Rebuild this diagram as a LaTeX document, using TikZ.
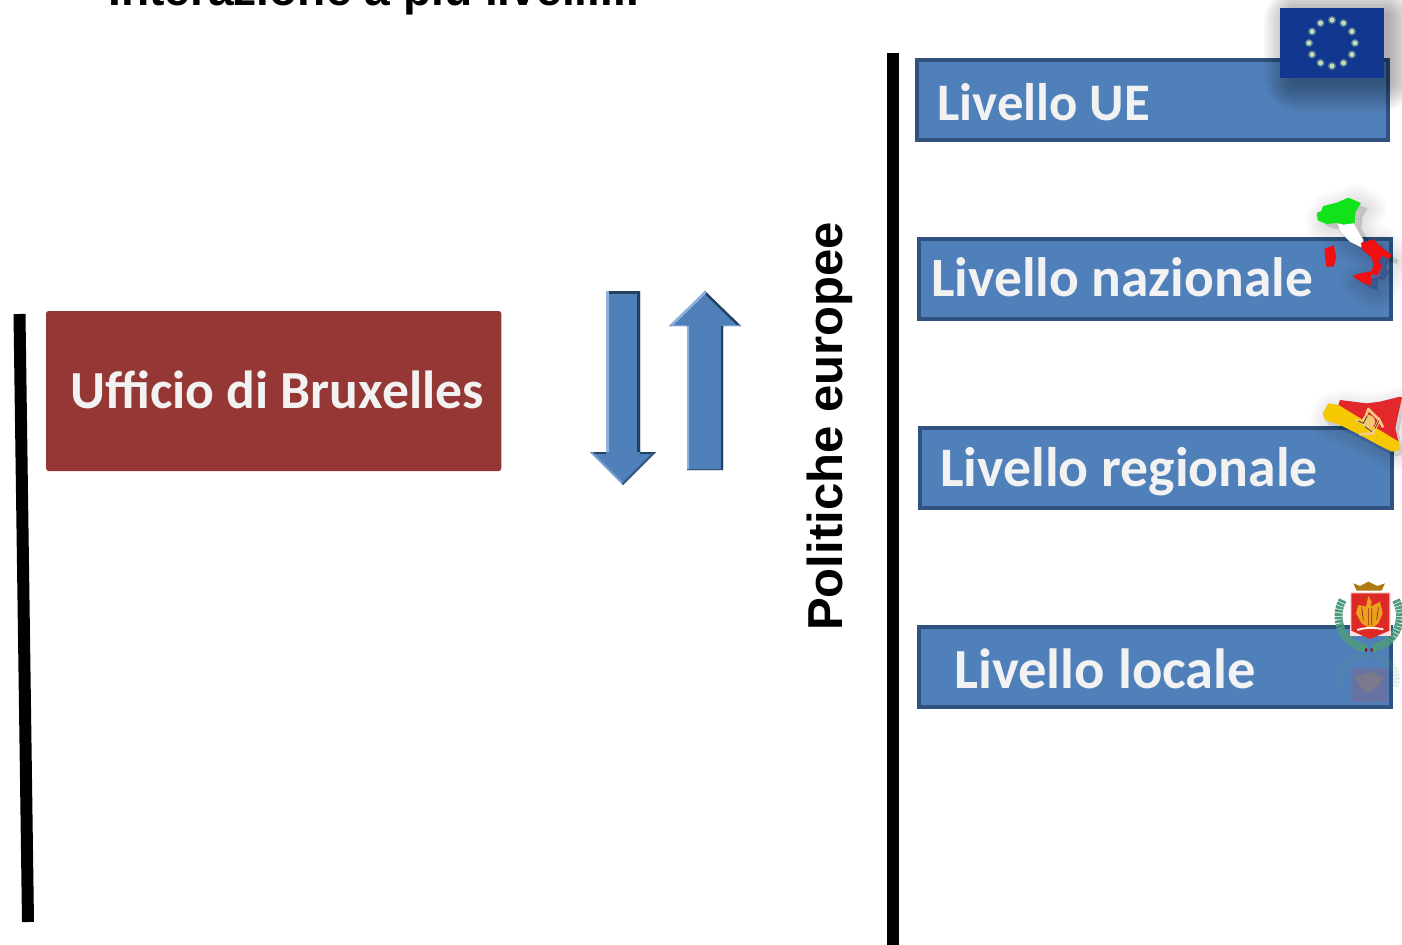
\documentclass[tikz,border=0pt]{standalone}
\usepackage{fontspec}
\setmainfont{Liberation Sans}
\newfontfamily\labfont{Carlito}
\definecolor{boxblue}{HTML}{5080B9}
\definecolor{boxedge}{HTML}{2F5280}
\definecolor{boxred}{HTML}{953735}
\definecolor{arrowblue}{HTML}{5080B9}
\definecolor{lightedge}{HTML}{8FB2DC}
\definecolor{darkedge}{HTML}{24405F}
\definecolor{flagblue}{HTML}{11388E}
\definecolor{star}{HTML}{C4E0B4}
\definecolor{itgreen}{HTML}{12E21A}
\definecolor{itred}{HTML}{F00F12}
\definecolor{siyellow}{HTML}{F5C800}
\definecolor{sired}{HTML}{E3282C}
\definecolor{gold}{HTML}{E9A21B}
\definecolor{wreath}{HTML}{4E9C7C}
\definecolor{shieldred}{HTML}{DD2A26}
\newcommand{\labsize}[1]{\labfont\bfseries\fontsize{#1}{44}\selectfont}
\tikzset{
  level/.style={draw=boxedge,line width=2.4pt,fill=boxblue,anchor=north west,inner sep=0pt,outer sep=0pt,minimum height=60pt},
  leveltext/.style={anchor=base west,inner sep=0pt,text=white!95!black},
  blackbar/.style={line width=9pt,draw=black},
  softshadow/.style={draw=black,fill=black,line join=round,draw opacity=0.011,fill opacity=0.011},
  blob/.style={line join=round,line width=.9pt},
}
\def\downarrowpath{(606,291) -- (640,291) -- (640,452) -- (656,452) -- (623,485) -- (590,452) -- (606,452) -- cycle}
\def\uparrowpath{(705,291) -- (741,326) -- (723,326) -- (723,470) -- (687,470) -- (687,326) -- (669,326) -- cycle}
\def\italyoutline{(112,70) -- (125,65) -- (130,50) -- (150,45) -- (170,40) -- (205,25) -- (240,40) -- (225,65) -- (222,100) -- (250,150) -- (280,150) -- (305,175) -- (332,195) -- (328,205) -- (305,195) -- (295,215) -- (305,230) -- (290,255) -- (272,250) -- (270,285) -- (245,275) -- (220,258) -- (250,250) -- (275,245) -- (283,225) -- (275,200) -- (250,180) -- (240,170) -- (210,155) -- (180,125) -- (172,100) -- (140,100) -- (115,90) -- cycle}
\def\sicilyoutline{(128,85) -- (145,55) -- (175,60) -- (180,45) -- (260,55) -- (300,50) -- (360,35) -- (366,38) -- (352,100) -- (346,130) -- (356,172) -- (360,195) -- (335,200) -- (295,180) -- (240,150) -- (180,120) -- (135,105) -- cycle}
\begin{document}
\begin{tikzpicture}[x=0.75pt,y=-0.75pt]
\useasboundingbox (0,0) rectangle (1402,945);
\clip (0,0) rectangle (1402,945);
\fill[white] (0,0) rectangle (1402,945);

% title, cut by the top edge
\node[anchor=base west,inner sep=0pt,font=\bfseries\fontsize{34.6}{36}\selectfont] (title) at (108,5.5) {Interazione a più livelli...};

% black bars
\coordinate (lefttop) at (19.5,314);
\coordinate (leftbot) at (28,922);
\coordinate (righttop) at (893,53);
\coordinate (rightbot) at (893,945);
\draw[blackbar] (lefttop) -- (leftbot);
\draw[blackbar] (righttop) -- (rightbot);

% red office
\node[fill=boxred,rounded corners=2pt,minimum width=341.5pt,minimum height=120pt,anchor=north west,inner sep=0pt,outer sep=0pt] (ufficio) at (46,311) {};
\node[leveltext,font=\labsize{40.2}] (ufficiotext) at (70,408) {Ufficio di Bruxelles};

% down arrow with bevel
\fill[arrowblue] \downarrowpath;
\begin{scope}
  \clip \downarrowpath;
  \draw[darkedge,line width=4pt] (606,291) -- (640,291);
  \draw[darkedge,line width=4pt] (640,291) -- (640,452);
  \draw[lightedge,line width=4pt] (606,291) -- (606,452);
  \draw[darkedge,line width=3pt] (590,452) -- (606,452);
  \draw[darkedge,line width=3pt] (640,452) -- (656,452);
  \draw[lightedge!50!arrowblue,line width=3pt] (590,452) -- (623,485);
  \draw[darkedge!60!arrowblue,line width=3pt] (656,452) -- (623,485);
\end{scope}
% up arrow with bevel
\fill[arrowblue] \uparrowpath;
\begin{scope}
  \clip \uparrowpath;
  \draw[darkedge,line width=3.5pt] (705,291) -- (741,326);
  \draw[lightedge,line width=3.5pt] (705,291) -- (669,326);
  \draw[lightedge,line width=3pt] (687,326) -- (687,470);
  \draw[darkedge,line width=3.5pt] (723,326) -- (723,470);
  \draw[lightedge!60!arrowblue,line width=1.5pt] (669,326) -- (687,326) (723,326) -- (741,326);
  \draw[darkedge!70!arrowblue,line width=1.5pt] (687,470) -- (723,470);
\end{scope}

% side title
\node[rotate=90,anchor=base west,inner sep=0pt,font=\bfseries\fontsize{36.8}{38}\selectfont] (politiche) at (842,631) {Politiche europee};

% level boxes
\node[level,minimum width=353.25pt] (ue) at (917,60) {};
\node[level,minimum width=354pt] (naz) at (919,239) {};
\node[level,minimum width=354pt] (reg) at (920,428) {};
\node[level,minimum width=354pt] (loc) at (919,627) {};
\node[leveltext,font=\labsize{39.6}] (uetext) at (937,121) {Livello UE};
\node[leveltext,font=\labsize{41.6}] (naztext) at (931,296) {Livello nazionale};
\node[leveltext,font=\labsize{41.8}] (regtext) at (940,486) {Livello regionale};
\node[leveltext,font=\labsize{42.5}] (loctext) at (954,688) {Livello locale};

% EU flag with soft shadow
\foreach \d in {28,25,...,1}
  \fill[black,opacity=0.035,rounded corners=\d] (1280-\d+12,8-\d+6) rectangle (1384+\d+4,78+\d+6);
\fill[flagblue] (1280,8) rectangle (1384,78);
\foreach \a in {0,30,...,330}{
  \fill[star,opacity=.4] ({1332+23*cos(\a)},{43+23*sin(\a)}) circle (4);
  \fill[star] ({1332+23*cos(\a)},{43+23*sin(\a)}) circle (2.4);
}

% Italy
\begin{scope}[shift={(1280,190)},x=0.25pt,y=-0.25pt]
  \begin{scope}[shift={(22,16)}]
    \foreach \w in {30,27,...,0}
      \path[softshadow,line width=\w pt] \italyoutline;
  \end{scope}
  \filldraw[itgreen,blob] (112,70) -- (125,65) -- (130,50) -- (150,45) -- (170,40) -- (205,25) -- (240,40) -- (225,65) -- (222,100) -- (190,104) -- (170,97) -- (140,100) -- (115,90) -- cycle;
  \fill[white] (172,100) -- (190,104) -- (222,100) -- (250,150) -- (243,172) -- (210,155) -- (180,125) -- cycle;
  \draw[black!25,line width=.3pt] (172,100) -- (180,125) -- (210,155) -- (243,172) -- (250,150) -- (222,100);
  \filldraw[itred,blob] (245,160) -- (280,150) -- (305,175) -- (332,195) -- (328,205) -- (305,195) -- (295,215) -- (305,230) -- (290,255) -- (272,250) -- (270,285) -- (245,275) -- (220,258) -- (250,250) -- (275,245) -- (283,225) -- (275,200) -- (250,180) -- cycle;
  \filldraw[itred,blob] (135,178) -- (160,168) -- (167,200) -- (160,228) -- (140,228) -- cycle;
\end{scope}

% Sicily
\begin{scope}[shift={(1280,385)},x=0.25pt,y=-0.25pt]
  \begin{scope}[shift={(10,14)}]
    \foreach \w in {24,21,...,0}
      \path[softshadow,line width=\w pt] \sicilyoutline;
  \end{scope}
  \fill[sired] (180,45) -- (260,55) -- (300,50) -- (360,35) -- (366,38) -- (352,100) -- (346,130) -- (356,172) -- (175,60) -- cycle;
  \fill[siyellow] (128,85) -- (145,55) -- (175,60) -- (356,170) -- (360,195) -- (335,200) -- (295,180) -- (240,150) -- (180,120) -- (135,105) -- cycle;
  \fill[gold!60!white] (265,110) circle (20);
  \draw[gold!55!white,line width=2pt,line cap=round] (265,72) -- (250,115) -- (228,105) (250,115) -- (278,145) -- (240,148) (278,145) -- (298,105) -- (308,125) (298,105) -- (265,72);
  \draw[black!55!gold,line width=.7pt,line cap=round] (262,92) -- (250,115) -- (235,108) (255,125) -- (275,140) (285,130) -- (296,108);
\end{scope}

% coat of arms
\begin{scope}[shift={(1300,570)},x=0.25pt,y=-0.25pt]
  % reflection
  \begin{scope}[opacity=0.16]
    \draw[wreath,line width=5pt,dash pattern=on 2pt off .6pt] (120,350) .. controls (100,300) and (150,260) .. (200,258);
    \draw[wreath,line width=5pt,dash pattern=on 2pt off .6pt] (285,350) .. controls (305,300) and (260,260) .. (215,258);
    \fill[shieldred] (155,295) rectangle (265,395);
    \fill[gold] (210,305) -- (250,320) -- (232,350) -- (215,365) -- (195,365) -- (180,350) -- (165,320) -- cycle;
  \end{scope}
  % wreath
  \draw[wreath,line width=6pt,dash pattern=on 2pt off .6pt] (128,90) .. controls (95,150) and (130,225) .. (200,235);
  \draw[wreath,line width=6pt,dash pattern=on 2pt off .6pt] (288,90) .. controls (320,150) and (285,225) .. (215,235);
  % crown
  \fill[gold!75!black] (160,40) -- (180,48) -- (205,35) -- (232,48) -- (255,40) -- (245,62) -- (170,62) -- cycle;
  % shield
  \fill[white!85!shieldred] (150,66) rectangle (272,198);
  \fill[shieldred] (154,70) -- (268,70) -- (268,182) -- (210,207) -- (154,182) -- cycle;
  % eagle
  \fill[gold] (205,78) -- (215,95) -- (212,110) -- (240,95) -- (248,130) -- (235,160) -- (220,172) -- (205,172) -- (185,160) -- (168,130) -- (175,105) -- (198,110) -- cycle;
  \draw[shieldred!70!black,line width=.5pt] (185,112) -- (190,150) (235,112) -- (230,150) (205,115) -- (205,165) (215,115) -- (215,165);
  \draw[white!90!gold,line width=1.4pt] (172,180) .. controls (195,172) and (225,172) .. (250,178);
  \fill[itred!60!black] (195,235) rectangle (201,245) (212,235) rectangle (218,245);
\end{scope}
\end{tikzpicture}
\end{document}
